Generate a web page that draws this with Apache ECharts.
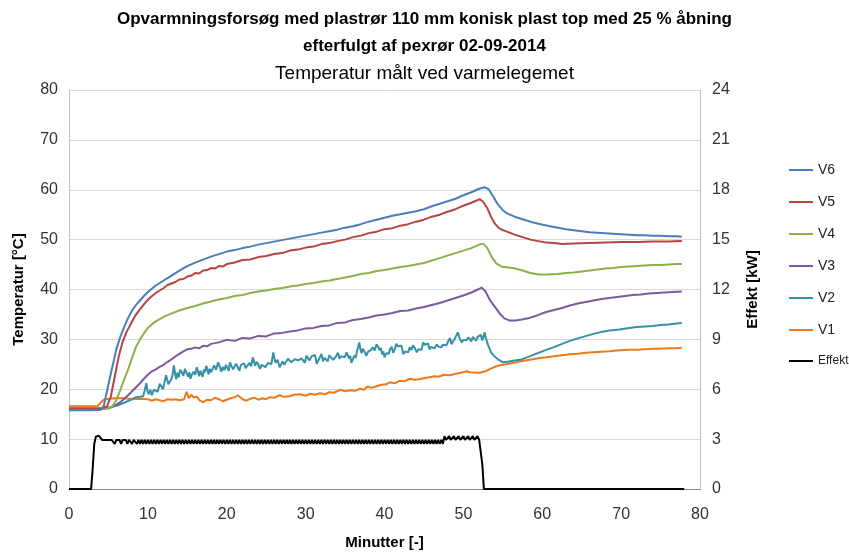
<!DOCTYPE html>
<html>
<head>
<meta charset="utf-8">
<script src="https://cdn.jsdelivr.net/npm/echarts@6/dist/echarts.min.js"></script>
<style>
  html, body { margin: 0; padding: 0; background: #fff; }
  #chart { width: 849px; height: 555px; }
</style>
</head>
<body>
<div id="chart"></div>
<script>
// Temperatures [°C] at the heating element, as [minute, value]
const v6 = [[0,15.8],[1,15.8],[2,15.8],[3,15.8],[4,15.9],[4.4,16.6],[5,21.0],[5.5,24.5],[6,28.0],[6.5,30.5],[7,32.5],[7.5,34.3],[8,35.8],[8.5,36.9],[9,37.8],[9.5,38.7],[10,39.5],[11,40.8],[12,41.8],[13,42.8],[14,43.8],[15,44.7],[16,45.4],[17,46.0],[18,46.6],[19,47.1],[20,47.6],[21,47.9],[22,48.3],[23,48.6],[24,49.0],[25,49.3],[26,49.6],[27,49.9],[28,50.2],[29,50.5],[30,50.8],[31,51.1],[32,51.4],[33,51.7],[34,52.0],[35,52.4],[36,52.7],[37,53.1],[38,53.6],[39,54.0],[40,54.4],[41,54.8],[42,55.1],[43,55.4],[44,55.7],[45,56.1],[46,56.7],[47,57.2],[48,57.7],[49,58.2],[50,58.9],[51,59.5],[52,60.2],[52.7,60.5],[53.2,60.1],[53.8,58.6],[54.4,57.0],[55,55.9],[55.6,55.2],[56.5,54.6],[57.5,54.1],[58.5,53.6],[59.5,53.2],[61,52.7],[62,52.4],[63,52.1],[64,51.9],[65,51.7],[66,51.5],[67,51.4],[68,51.3],[69,51.2],[70,51.1],[71,51.0],[72,50.9],[73,50.9],[74,50.8],[75,50.8],[76,50.7],[77,50.7],[77.7,50.6]];

const v5 = [[0,16.2],[4,16.2],[4.8,16.5],[5.3,18.5],[5.8,22.5],[6.3,26.5],[6.8,29.5],[7.3,31.5],[7.8,33.0],[8.3,34.5],[8.8,35.6],[9.3,36.6],[9.8,37.6],[10.3,38.4],[11,39.3],[11.5,39.8],[12,40.3],[12.5,40.9],[13,41.2],[13.5,41.5],[14,42.0],[14.5,42.1],[15,42.6],[15.5,42.8],[16,43.3],[16.5,43.2],[17,43.8],[17.5,43.9],[18,44.3],[18.5,44.2],[19,44.7],[19.5,44.6],[20,45.1],[21,45.4],[22,45.9],[23,46.0],[24,46.5],[25,46.7],[26,47.1],[27,47.3],[28,47.8],[29,48.0],[30,48.4],[31,48.6],[32,49.1],[33,49.3],[34,49.7],[35,50.0],[36,50.5],[37,50.8],[38,51.3],[39,51.6],[40,52.1],[41,52.3],[42,52.8],[43,53.1],[44,53.6],[45,54.0],[46,54.6],[47,55.0],[48,55.6],[49,56.1],[50,56.8],[51,57.4],[51.6,57.8],[52.1,58.1],[52.5,57.6],[53,56.4],[53.5,54.6],[54,53.2],[54.5,52.3],[55,51.9],[55.7,51.5],[56.5,51.0],[57.5,50.5],[58.5,50.0],[59.5,49.7],[60.5,49.4],[61.5,49.3],[62.5,49.1],[64,49.2],[66,49.3],[68,49.4],[70,49.5],[72,49.5],[74,49.6],[76,49.6],[77.7,49.7]];

const v4 = [[0,16.0],[4,16.0],[5,16.2],[5.5,16.6],[6,17.8],[6.5,19.8],[7,22.0],[7.5,24.0],[8,26.3],[8.5,28.5],[9,30.0],[9.5,31.2],[10,32.3],[10.5,33.0],[11,33.6],[12,34.5],[13,35.2],[14,35.8],[15,36.3],[16,36.7],[17,37.2],[18,37.6],[19,38.0],[20,38.3],[21,38.7],[22,38.9],[23,39.3],[24,39.6],[25,39.8],[26,40.1],[27,40.3],[28,40.6],[29,40.8],[30,41.1],[31,41.3],[32,41.6],[33,41.8],[34,42.1],[35,42.4],[36,42.7],[37,43.1],[38,43.3],[39,43.7],[40,43.9],[41,44.2],[42,44.5],[43,44.7],[44,45.0],[45,45.3],[46,45.8],[47,46.3],[48,46.8],[49,47.3],[50,47.8],[51,48.3],[52,49.0],[52.5,49.2],[53,48.4],[53.6,46.5],[54.2,45.2],[55,44.5],[55.8,44.4],[56.6,44.2],[57.5,43.8],[58.5,43.3],[59.5,43.0],[60.5,43.0],[62,43.1],[63,43.3],[64,43.4],[65,43.6],[66,43.8],[67,44.0],[68,44.2],[69,44.3],[70,44.5],[71,44.6],[72,44.7],[73,44.8],[74,44.9],[75,44.9],[76,45.0],[77,45.1],[77.7,45.1]];

const v3 = [[0,16.0],[4,16.0],[5,16.2],[5.5,16.5],[6,16.9],[6.5,17.4],[7,18.1],[7.5,18.8],[8,19.6],[8.5,20.4],[9,21.2],[9.5,22.1],[10,22.9],[10.5,23.6],[11,24.0],[11.5,24.5],[12,24.9],[12.5,25.5],[13,26.0],[13.5,26.6],[14,27.1],[14.5,27.6],[15,28.0],[15.5,28.1],[16,28.4],[16.5,28.2],[17,28.7],[17.5,28.6],[18,29.1],[19,29.4],[20,29.9],[21,29.7],[22,30.3],[23,30.2],[24,30.7],[25,30.6],[26,31.2],[27,31.3],[28,31.6],[29,31.8],[30,32.2],[31,32.3],[32,32.7],[33,32.8],[34,33.3],[35,33.4],[36,33.9],[37,34.1],[38,34.4],[39,34.8],[40,35.0],[41,35.3],[42,35.7],[43,35.8],[44,36.2],[45,36.5],[46,36.9],[47,37.3],[48,37.8],[49,38.3],[50,38.8],[51,39.4],[52,40.1],[52.3,40.4],[52.8,39.6],[53.4,37.8],[54,36.5],[54.6,35.2],[55.2,34.2],[55.8,33.8],[56.6,33.8],[57.4,34.0],[58.4,34.3],[59.5,34.9],[60.5,35.5],[61.5,35.9],[62.5,36.3],[63.5,36.8],[64.5,37.2],[65.5,37.5],[66.5,37.8],[67.5,38.1],[68.5,38.3],[69.5,38.5],[70.5,38.7],[71.5,38.9],[72.5,39.0],[73.5,39.2],[74.5,39.3],[75.5,39.4],[76.5,39.5],[77.7,39.6]];

const v2 = [[0,16.0],[4,16.0],[5,16.3],[6,16.7],[7,17.3],[8,18.0],[8.5,18.4],[9,18.5],[9.2,18.9],[9.4,18.6],[9.6,19.8],[9.8,21.2],[9.95,19.6],[10.1,19.0],[10.3,19.9],[10.5,18.8],[10.75,19.9],[11,20.3],[11.25,19.5],[11.5,21.1],[11.7,20.6],[11.9,20.0],[12.1,21.3],[12.3,22.8],[12.6,21.0],[12.9,21.8],[13.1,22.6],[13.3,24.8],[13.45,23.1],[13.6,22.0],[13.75,23.3],[13.9,22.4],[14.1,23.9],[14.3,23.4],[14.5,22.7],[14.7,24.1],[14.9,23.3],[15.1,22.5],[15.25,23.4],[15.4,22.1],[15.6,23.0],[15.8,23.5],[16.0,22.9],[16.2,24.4],[16.35,23.6],[16.5,22.6],[16.65,23.7],[16.8,23.1],[16.95,22.5],[17.1,24.0],[17.25,23.4],[17.4,24.7],[17.55,24.0],[17.7,23.0],[17.85,24.1],[18,23.4],[18.2,24.0],[18.4,24.8],[18.65,23.9],[18.9,25.4],[19.1,24.6],[19.3,23.5],[19.5,24.5],[19.7,23.8],[19.9,24.9],[20.1,24.2],[20.25,23.7],[20.4,25.4],[20.6,24.6],[20.8,24.0],[21.0,24.6],[21.2,25.1],[21.4,24.4],[21.6,23.7],[21.8,24.9],[22,24.6],[22.2,25.2],[22.4,24.2],[22.65,24.8],[22.9,25.3],[23.1,24.6],[23.3,26.4],[23.45,25.6],[23.6,24.7],[23.8,25.5],[24,25.0],[24.1,25.4],[24.2,24.1],[24.45,24.9],[24.7,25.2],[24.9,24.4],[25.1,24.6],[25.25,25.3],[25.4,25.7],[25.65,25.0],[25.9,27.4],[26.05,26.1],[26.2,25.3],[26.45,25.9],[26.7,24.4],[26.9,25.0],[27.1,25.6],[27.3,24.9],[27.5,25.0],[27.75,26.1],[28,26.0],[28.2,25.4],[28.4,25.2],[28.6,26.0],[28.8,26.3],[29.05,25.8],[29.3,25.4],[29.5,26.2],[29.7,25.9],[29.9,25.3],[30.1,26.7],[30.3,26.3],[30.5,25.8],[30.75,26.6],[31,26.2],[31.2,26.9],[31.4,25.1],[31.6,25.7],[31.8,26.4],[32.0,27.1],[32.2,25.6],[32.4,26.3],[32.6,26.0],[32.8,25.6],[33,26.8],[33.25,26.4],[33.5,25.9],[33.7,26.3],[33.9,26.7],[34.1,27.3],[34.3,26.1],[34.5,26.6],[34.7,27.0],[34.95,26.4],[35.2,27.4],[35.35,26.8],[35.5,26.2],[35.65,26.7],[35.8,25.3],[36.0,26.1],[36.2,26.8],[36.35,26.3],[36.5,27.5],[36.65,27.9],[36.8,29.4],[36.95,28.0],[37.1,27.2],[37.25,28.1],[37.4,27.9],[37.55,27.3],[37.7,26.7],[37.9,27.5],[38.1,27.3],[38.3,27.9],[38.5,28.4],[38.75,27.8],[39,29.0],[39.2,28.5],[39.4,27.8],[39.55,28.3],[39.7,27.0],[39.85,27.6],[40,26.4],[40.2,27.2],[40.4,27.6],[40.55,27.1],[40.7,28.0],[40.9,28.5],[41.1,27.3],[41.3,28.0],[41.5,29.1],[41.7,28.6],[41.9,28.2],[42.15,28.7],[42.4,27.0],[42.6,27.6],[42.8,27.9],[43.0,27.4],[43.2,28.4],[43.4,27.9],[43.6,28.8],[43.85,28.2],[44.1,27.4],[44.3,28.0],[44.5,28.4],[44.7,27.9],[44.9,29.4],[45.1,28.9],[45.3,28.6],[45.5,29.2],[45.7,28.0],[45.9,28.5],[46.1,28.7],[46.35,28.2],[46.6,29.0],[46.75,29.4],[46.9,28.5],[47.05,28.9],[47.2,28.4],[47.4,28.9],[47.6,29.2],[47.85,28.8],[48.1,29.7],[48.3,30.2],[48.5,29.0],[48.7,29.6],[48.9,30.1],[49.1,29.8],[49.3,31.4],[49.45,30.6],[49.6,30.0],[49.7,30.4],[49.8,29.4],[50.0,29.9],[50.2,30.3],[50.35,29.8],[50.5,29.7],[50.65,30.4],[50.8,30.0],[51.0,29.6],[51.2,30.5],[51.4,30.1],[51.6,29.7],[51.8,30.5],[52,30.4],[52.2,30.9],[52.4,29.8],[52.55,30.6],[52.7,31.4],[52.8,30.5],[52.9,30.2],[53.1,29.0],[53.5,27.4],[54,26.5],[54.4,26.0],[55,25.4],[55.6,25.5],[56.3,25.7],[57.2,25.9],[58.4,26.6],[59.5,27.3],[60.5,27.9],[61.4,28.4],[62.5,29.1],[63.5,29.7],[64.5,30.2],[65.6,30.7],[66.5,31.1],[67.5,31.5],[68.5,31.8],[69.8,32.0],[71,32.3],[72,32.5],[73,32.6],[74,32.7],[75,32.9],[76,33.0],[77,33.2],[77.7,33.3]];

const v1 = [[0,16.6],[3.6,16.6],[4.0,17.3],[4.4,17.9],[5,18.1],[6,18.2],[7,18.2],[8,18.0],[9,18.1],[10,18.0],[10.5,17.7],[11,18.0],[11.5,17.8],[12,17.6],[12.5,18.0],[13,17.9],[13.5,18.0],[14,17.8],[14.6,18.0],[14.9,19.5],[15.2,18.2],[15.5,18.9],[15.8,18.4],[16.2,18.5],[16.6,17.7],[17,17.4],[17.5,17.9],[18,17.8],[18.5,18.3],[19,18.0],[19.5,17.6],[20,17.9],[20.5,18.2],[21,18.4],[21.4,18.8],[22,18.0],[22.5,17.7],[23,18.1],[23.5,18.3],[24,17.9],[24.5,18.2],[25,18.0],[25.5,18.4],[26,18.3],[26.7,18.8],[27.2,18.5],[28,18.6],[28.5,18.9],[29.3,19.0],[30,18.7],[30.6,19.1],[31.2,18.9],[31.8,19.2],[32.5,19.0],[33,19.4],[33.6,19.3],[34.4,19.9],[35,19.6],[35.6,19.8],[36.3,19.7],[36.9,20.1],[37.4,19.9],[37.8,20.5],[38.4,20.3],[39,20.6],[39.6,20.9],[40.2,21.0],[40.7,21.4],[41.3,21.2],[41.9,21.7],[42.5,21.6],[43.2,22.1],[43.8,21.9],[44.4,22.0],[45,22.2],[45.7,22.4],[46.3,22.6],[46.9,22.5],[47.5,22.9],[48.3,22.8],[49,23.1],[49.7,23.3],[50.4,23.6],[50.8,23.4],[51.5,23.3],[52.1,23.3],[52.8,23.6],[53.4,24.1],[54,24.5],[54.6,24.8],[55.4,25.0],[56.4,25.3],[57.3,25.6],[58.4,25.9],[59.5,26.2],[60.5,26.4],[61.5,26.6],[62.5,26.8],[63.5,27.0],[64.5,27.1],[65.5,27.3],[66.5,27.4],[67.5,27.5],[68.5,27.6],[69.8,27.8],[71,27.9],[72,27.9],[73,28.0],[74,28.1],[75,28.1],[76,28.2],[77,28.2],[77.7,28.3]];

// Heater power [kW], logged every 0.2 min from minute 2.8 to 52.6
const effektStart = 2.8;
const effektStep = 0.2;
const effektKW = [
  0, 1.2, 2.7, 3.15, 3.2, 3.2, 3.15, 2.95, 2.95, 2.95,
  2.95, 2.95, 2.95, 2.95, 2.95, 2.72, 2.95, 2.95, 2.95, 2.72,
  2.95, 2.95, 2.95, 2.72, 2.95, 2.95, 2.72, 2.95, 2.95, 2.72,
  2.95, 2.72, 2.95, 2.72, 2.95, 2.72, 2.95, 2.72, 2.95, 2.72,
  2.95, 2.72, 2.95, 2.72, 2.95, 2.72, 2.95, 2.72, 2.95, 2.72,
  2.95, 2.72, 2.95, 2.72, 2.95, 2.72, 2.95, 2.72, 2.95, 2.72,
  2.95, 2.72, 2.95, 2.72, 2.95, 2.72, 2.95, 2.72, 2.95, 2.72,
  2.95, 2.72, 2.95, 2.72, 2.95, 2.72, 2.95, 2.72, 2.95, 2.72,
  2.95, 2.72, 2.95, 2.72, 2.95, 2.72, 2.95, 2.72, 2.95, 2.72,
  2.95, 2.72, 2.95, 2.72, 2.95, 2.72, 2.95, 2.72, 2.95, 2.72,
  2.95, 2.72, 2.95, 2.72, 2.95, 2.72, 2.95, 2.72, 2.95, 2.72,
  2.95, 2.72, 2.95, 2.72, 2.95, 2.72, 2.95, 2.72, 2.95, 2.72,
  2.95, 2.72, 2.95, 2.72, 2.95, 2.72, 2.95, 2.72, 2.95, 2.72,
  2.95, 2.72, 2.95, 2.72, 2.95, 2.72, 2.95, 2.72, 2.95, 2.72,
  2.95, 2.72, 2.95, 2.72, 2.95, 2.72, 2.95, 2.72, 2.95, 2.72,
  2.95, 2.72, 2.95, 2.72, 2.95, 2.72, 2.95, 2.72, 2.95, 2.72,
  2.95, 2.72, 2.95, 2.72, 2.95, 2.72, 2.95, 2.72, 2.95, 2.72,
  2.95, 2.72, 2.95, 2.72, 2.95, 2.72, 2.95, 2.72, 2.95, 2.72,
  2.95, 2.72, 2.95, 2.72, 2.95, 2.72, 2.95, 2.72, 2.95, 2.72,
  2.95, 2.72, 2.95, 2.72, 2.95, 2.72, 2.95, 2.72, 2.95, 2.72,
  2.95, 2.72, 2.95, 2.72, 2.95, 2.72, 2.95, 2.72, 2.95, 2.72,
  2.95, 2.72, 2.95, 2.72, 2.95, 2.72, 2.95, 2.72, 2.95, 2.72,
  2.95, 2.72, 2.95, 2.72, 3.18, 2.95, 2.95, 3.18, 2.95, 2.95,
  3.18, 2.95, 2.95, 3.18, 2.95, 2.95, 3.18, 2.95, 2.95, 3.18,
  2.95, 2.95, 3.18, 2.95, 2.95, 3.18, 2.95, 2.95, 1.5, 0
];
const effektFoer = [[0, 0]];
const effektEfter = [[78, 0]];

const serieNavne = ['V6', 'V5', 'V4', 'V3', 'V2', 'V1', 'Effekt'];
const farver = {
  V6: '#4A7EBB', V5: '#B64441', V4: '#8DB04A', V3: '#7B5A9E',
  V2: '#3591A8', V1: '#F07A1A', Effekt: '#000000'
};

const effekt = effektFoer
  .concat(effektKW.map((v, i) => [+(effektStart + i * effektStep).toFixed(2), v]))
  .concat(effektEfter);

const temp = { V6: v6, V5: v5, V4: v4, V3: v3, V2: v2, V1: v1 };

const FONT = "'Liberation Sans', Arial, sans-serif";
const chart = echarts.init(document.getElementById('chart'), null, { renderer: 'canvas' });

const series = ['V1', 'V2', 'V3', 'V4', 'V5', 'V6'].map(n => ({
  name: n,
  type: 'line',
  data: temp[n],
  yAxisIndex: 0,
  showSymbol: false,
  symbol: 'none',
  lineStyle: { width: 2, color: farver[n] },
  itemStyle: { color: farver[n] },
  z: 3
}));
series.push({
  name: 'Effekt',
  type: 'line',
  data: effekt,
  yAxisIndex: 1,
  showSymbol: false,
  symbol: 'none',
  lineStyle: { width: 2, color: '#000' },
  itemStyle: { color: '#000' },
  z: 4
});

chart.setOption({
  animation: false,
  backgroundColor: '#fff',
  title: [
    {
      text: 'Opvarmningsforsøg med plastrør 110 mm konisk plast top med 25 % åbning',
      left: 'center', top: 6,
      textStyle: { fontFamily: FONT, fontSize: 17, fontWeight: 'bold', color: '#000' }
    },
    {
      text: 'efterfulgt af pexrør 02-09-2014',
      left: 'center', top: 33,
      textStyle: { fontFamily: FONT, fontSize: 17, fontWeight: 'bold', color: '#000' }
    },
    {
      text: 'Temperatur målt ved varmelegemet',
      left: 'center', top: 59,
      textStyle: { fontFamily: FONT, fontSize: 19, fontWeight: 'normal', color: '#000' }
    }
  ],
  legend: {
    orient: 'vertical',
    left: 789, top: 163,
    itemWidth: 24, itemHeight: 14, itemGap: 18,
    padding: 0,
    icon: 'path://M0,0 L24,0 L24,2 L0,2 Z',
    data: serieNavne,
    formatter: n => n === 'Effekt' ? '{s|' + n + '}' : n,
    textStyle: {
      fontFamily: FONT, fontSize: 14, color: '#222',
      rich: { s: { fontFamily: FONT, fontSize: 12, color: '#222' } }
    }
  },
  grid: { left: 69, right: 149, top: 90, bottom: 62, containLabel: false },
  xAxis: {
    type: 'value', min: 0, max: 80, interval: 10,
    name: 'Minutter [-]', nameLocation: 'middle', nameGap: 46,
    nameTextStyle: { fontFamily: FONT, fontSize: 15, fontWeight: 'bold', color: '#000' },
    axisLine: { show: true, onZero: false, lineStyle: { color: '#868686', width: 1 } },
    axisTick: { show: false },
    splitLine: { show: false },
    axisLabel: { fontFamily: FONT, fontSize: 16, color: '#333', margin: 18 }
  },
  yAxis: [
    {
      type: 'value', min: 0, max: 80, interval: 10,
      name: 'Temperatur [°C]', nameLocation: 'middle', nameGap: 43, nameRotate: 90,
      nameTextStyle: { fontFamily: FONT, fontSize: 15, fontWeight: 'bold', color: '#000' },
      axisLine: { show: true, lineStyle: { color: '#BFBFBF', width: 1 } },
      axisTick: { show: false },
      splitLine: { show: true, lineStyle: { color: '#D9D9D9', width: 1 } },
      axisLabel: { fontFamily: FONT, fontSize: 16, color: '#333', margin: 11 }
    },
    {
      type: 'value', min: 0, max: 24, interval: 3, position: 'right',
      name: 'Effekt [kW]', nameLocation: 'middle', nameGap: 45, nameRotate: 90,
      nameTextStyle: { fontFamily: FONT, fontSize: 15, fontWeight: 'bold', color: '#000' },
      axisLine: { show: true, lineStyle: { color: '#BFBFBF', width: 1 } },
      axisTick: { show: false },
      splitLine: { show: false },
      axisLabel: { fontFamily: FONT, fontSize: 16, color: '#333', margin: 12 }
    }
  ],
  series: series
});
</script>
</body>
</html>
